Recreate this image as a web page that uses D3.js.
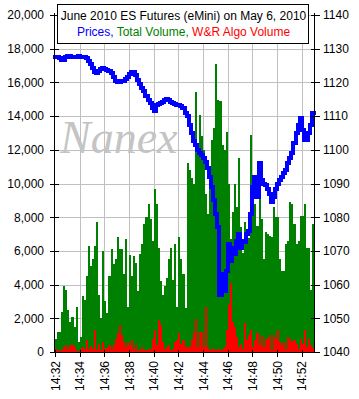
<!DOCTYPE html>
<html><head><meta charset="utf-8">
<script src="https://cdn.jsdelivr.net/npm/d3@7"></script>
<style>
html,body{margin:0;padding:0;background:#fff;}
svg{display:block;}
text{font-family:"Liberation Sans",Arial,sans-serif;}
</style>
</head><body><svg id="c" width="359" height="399"></svg>
<script>
// ---------- DATA ----------
const titleText = "June 2010 ES Futures (eMini) on May 6, 2010";
const legendText = ["Prices,", " Total Volume,", " W&R Algo Volume"];
const legendColors = ["#0000ff", "#008000", "#ff0000"];
const startTime = "14:32:00";
const endTime = "14:53:00";
const barSeconds = 10;

const totalVolume = [
  800,1200,1200,2400,3900,3700,2500,1800,2100,1500,
  2700,600,900,3300,3100,4500,6300,5100,5500,6300,
  7700,3400,2000,6000,3000,2300,4500,6100,5200,5500,
  6850,6100,6100,4600,6700,2700,5750,4500,5700,5300,
  3600,5800,6400,7600,8000,8800,7900,6600,9700,8800,
  6200,4200,3400,3900,4400,5500,6200,4300,6400,2700,
  6800,5500,4600,2600,11200,10800,10300,10000,15450,11800,
  14060,12800,12000,9400,8200,11000,12600,13300,17100,14950,
  14900,12280,12000,13070,10000,6700,8300,10000,8600,11500,
  7400,5850,7700,6450,6750,12900,9500,8800,7500,9500,
  7900,5500,7100,7000,6900,6800,8600,8000,8000,5500,
  4800,4800,6400,6600,8900,8800,7600,6400,6600,8100,
  8100,8800,6200,6200,3700,7600
];
const algoVolume = [
  150,100,50,100,300,400,150,400,400,300,
  50,50,150,300,200,700,150,350,150,1300,
  100,500,100,600,150,250,400,150,400,800,
  1100,1600,1000,600,300,600,400,700,200,400,
  50,100,300,100,100,200,200,800,1300,400,
  1900,1600,600,200,300,400,100,200,600,700,
  1100,500,700,300,300,300,700,1100,1940,300,
  1200,1200,300,2700,300,100,150,200,100,200,
  100,150,300,1300,2800,4100,1800,1500,900,300,
  500,150,1700,700,1000,1300,300,700,1150,400,
  950,300,750,750,1000,100,1000,750,1300,600,
  400,600,200,900,750,600,700,500,200,800,
  500,1300,300,750,400,230
];
const prices = [
  1127.6,1127.6,1127.1,1126.6,1126.6,1127.6,1127.8,1127.8,1127.6,1127.6,
  1127.6,1127.8,1127.6,1127.6,1127.6,1127.1,1126.4,1125.5,1124.2,1123.0,
  1122.7,1123.5,1123.9,1124.2,1124.0,1123.6,1123.5,1122.7,1121.7,1120.5,
  1120.2,1120.2,1120.5,1120.3,1121.0,1121.5,1122.5,1123.0,1123.2,1122.2,
  1120.8,1119.5,1118.2,1117.5,1116.0,1114.8,1113.8,1112.3,1111.5,1113.2,
  1113.6,1113.8,1114.2,1114.8,1115.2,1114.8,1114.2,1114.0,1113.6,1113.3,
  1113.3,1113.0,1112.5,1111.0,1110.0,1107.5,1105.0,1102.5,1101.5,1100.0,
  1099.0,1098.5,1097.5,1096.5,1094.5,1092.0,1089.0,1085.0,1081.0,1077.0,
  1057,1063,1058,1064,1072,1067,1071,1069,1073,1075,
  1071,1073,1072.5,1075,1076,1081,1089,1092,1086,1096,
  1091,1090,1089.5,1088.5,1087,1084.5,1086,1088.5,1090,1091,
  1092,1093,1094,1096,1097.5,1099,1102,1105,1107.5,1109.5,
  1106,1103,1103,1105,1107.5,1111
];
const volumeTicks = [0,2000,4000,6000,8000,10000,12000,14000,16000,18000,20000];
const priceTicks = [1040,1050,1060,1070,1080,1090,1100,1110,1120,1130,1140];
const timeTicks = ["14:32","14:34","14:36","14:38","14:40","14:42","14:44","14:46","14:48","14:50","14:52"];
const watermark = "Nanex";

// ---------- CHART ----------
const parseT = d3.timeParse("%H:%M:%S");
const parseHM = d3.timeParse("%H:%M");
const t0 = parseT(startTime), t1 = parseT(endTime);
const barTime = i => new Date(t0.getTime() + i * barSeconds * 1000);

const L = 54.5, R = 314.5, T = 15, B = 352;
const svg = d3.select("#c");
const x = d3.scaleTime().domain([t0, t1]).range([L + 0.5, R - 0.5]);
const yV = d3.scaleLinear().domain([0, 20000]).range([B, T]);
const yP = d3.scaleLinear().domain([1040, 1140]).range([B, T]);

// grid
const grid = svg.append("g").attr("stroke", "#c0c0c0").attr("stroke-width", 1).attr("shape-rendering", "crispEdges");
volumeTicks.filter(v => v > 0).forEach(v => {
  grid.append("line").attr("x1", L).attr("x2", R).attr("y1", Math.round(yV(v)) + 0.5).attr("y2", Math.round(yV(v)) + 0.5);
});
timeTicks.slice(1).forEach(s => {
  const xx = Math.round(x(parseHM(s))) + 0.5;
  grid.append("line").attr("x1", xx).attr("x2", xx).attr("y1", T).attr("y2", B);
});

// watermark
svg.append("text").attr("x", 60).attr("y", 153).text(watermark)
  .style("font-family", "'Liberation Serif','Times New Roman',serif")
  .attr("font-style", "italic").attr("font-size", 46).attr("fill", "#c4c4c4");

// bars
const bars = svg.append("g").attr("shape-rendering", "crispEdges");
bars.selectAll("rect.tv").data(totalVolume).join("rect").attr("class", "tv")
  .attr("x", (d, i) => Math.round(x(barTime(i))))
  .attr("width", (d, i) => Math.round(x(barTime(i + 1))) - Math.round(x(barTime(i))))
  .attr("y", d => Math.round(yV(d)))
  .attr("height", d => B - Math.round(yV(d)))
  .attr("fill", "#008000");
bars.selectAll("rect.av").data(algoVolume).join("rect").attr("class", "av")
  .attr("x", (d, i) => Math.round(x(barTime(i))))
  .attr("width", (d, i) => Math.round(x(barTime(i + 1))) - Math.round(x(barTime(i))))
  .attr("y", d => Math.round(yV(d)))
  .attr("height", d => B - Math.round(yV(d)))
  .attr("fill", "#ff0000");

// price line
const pts = prices.map((p, i) => [barTime(i), p]);
pts.push([barTime(prices.length), prices[prices.length - 1]]);
svg.append("path").datum(pts)
  .attr("d", d3.line().x(d => Math.round(x(d[0]))).y(d => Math.round(yP(d[1]))).curve(d3.curveStepAfter))
  .attr("fill", "none").attr("stroke", "#0000ff").attr("stroke-width", 4)
  .attr("stroke-linejoin", "miter").attr("stroke-linecap", "square")
  .attr("shape-rendering", "crispEdges");

// axes
const fmt = d3.format(",");
const axL = svg.append("g").attr("transform", `translate(${L},0)`)
  .call(d3.axisLeft(yV).tickValues(volumeTicks).tickFormat(fmt).tickSizeInner(5).tickSizeOuter(0));
axL.selectAll(".tick line").attr("x1", 4).attr("x2", -5);
axL.selectAll(".tick text").attr("x", -10.5);
const axR = svg.append("g").attr("transform", `translate(${R},0)`)
  .call(d3.axisRight(yP).tickValues(priceTicks).tickFormat(d3.format("d")).tickSizeInner(5).tickSizeOuter(0));
axR.selectAll(".tick line").attr("x1", -4).attr("x2", 5);
axR.selectAll(".tick text").attr("x", 8.5);
const axB = svg.append("g").attr("transform", `translate(0,${B})`)
  .call(d3.axisBottom(x).tickValues(timeTicks.map(parseHM)).tickFormat(d3.timeFormat("%H:%M")).tickSizeInner(5).tickSizeOuter(0));
axB.selectAll(".tick line").attr("y1", -2).attr("y2", 5);
axB.selectAll(".tick text").attr("transform", "rotate(-90)").attr("text-anchor", "end")
  .attr("x", -9).attr("y", 0).attr("dy", "0.36em");
[axL, axR, axB].forEach(a => {
  a.selectAll("text").attr("font-size", 12).attr("fill", "#000").style("font-family", "'Liberation Sans',Arial,sans-serif");
  a.selectAll("line,path").attr("stroke", "#000").attr("shape-rendering", "crispEdges");
});
axL.select(".domain").attr("d", `M0,${T - 2}V${B}`);
axR.select(".domain").attr("d", `M0,${T - 2}V${B}`);

// title box
svg.append("rect").attr("x", 57.5).attr("y", 4.5).attr("width", 251).attr("height", 39)
  .attr("fill", "#fff").attr("stroke", "#000").attr("shape-rendering", "crispEdges");
svg.append("text").attr("x", 183.5).attr("y", 19.5).attr("text-anchor", "middle")
  .attr("font-size", 12).attr("fill", "#000").text(titleText);
const lg = svg.append("text").attr("x", 183.5).attr("y", 35.7).attr("text-anchor", "middle").attr("font-size", 12);
legendText.forEach((s, i) => lg.append("tspan").attr("fill", legendColors[i]).text(s));
</script>
</body></html>
